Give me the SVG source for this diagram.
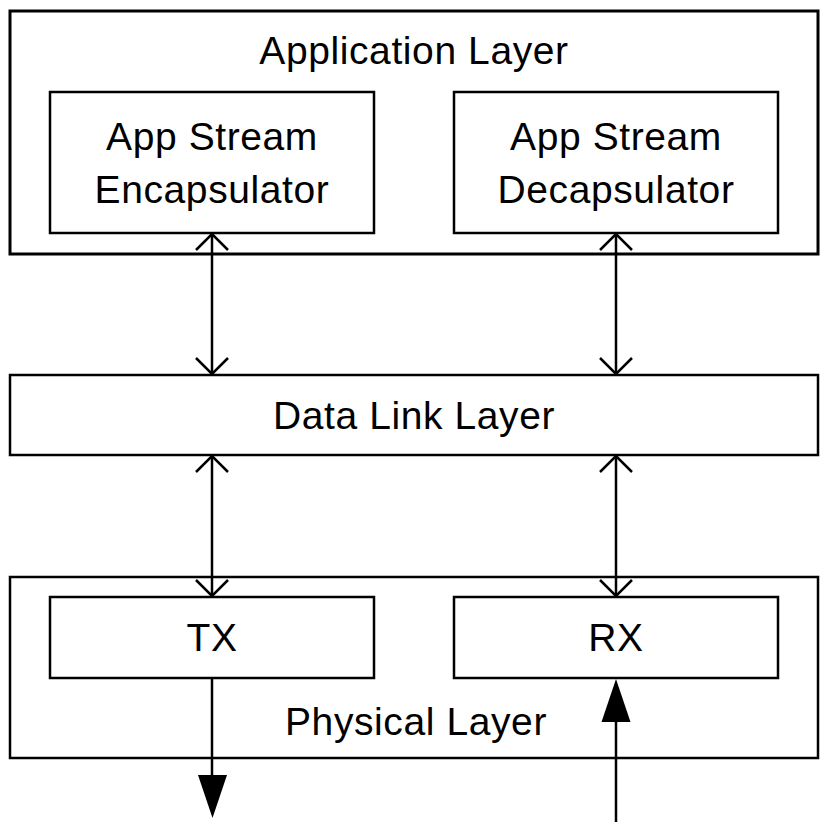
<svg xmlns="http://www.w3.org/2000/svg" width="829" height="825" viewBox="0 0 829 825">
<style>
.box{fill:none;stroke:#000;stroke-width:3}
.inner{fill:none;stroke:#000;stroke-width:2.5}
.t{font-family:"Liberation Sans",Arial,sans-serif;font-size:39px;letter-spacing:0.6px;fill:#000;text-anchor:middle}
.c{stroke:#000;stroke-width:2.5;fill:none}
.head{fill:#000;stroke:none}
</style>
<defs>
<marker id="open" markerUnits="userSpaceOnUse" markerWidth="40" markerHeight="40" refX="30" refY="20" orient="auto-start-reverse" viewBox="0 0 40 40">
<path d="M14 4 L30 20 L14 36" fill="none" stroke="#000" stroke-width="2.5"/>
</marker>
</defs>
<g id="application-layer">
<rect class="box" x="10" y="11" width="808" height="243"/>
<text class="t" x="414" y="64">Application Layer</text>
</g>
<g id="encapsulator">
<rect class="inner" x="50" y="92" width="324" height="141"/>
<text class="t" x="212" y="150">App Stream</text>
<text class="t" x="212" y="203">Encapsulator</text>
</g>
<g id="decapsulator">
<rect class="inner" x="454" y="92" width="324" height="141"/>
<text class="t" x="616" y="150">App Stream</text>
<text class="t" x="616" y="203">Decapsulator</text>
</g>
<g id="data-link-layer">
<rect class="inner" x="10" y="375" width="808" height="80"/>
<text class="t" x="414" y="429">Data Link Layer</text>
</g>
<g id="physical-layer">
<rect class="inner" x="10" y="577" width="808" height="181"/>
<text class="t" x="416" y="735">Physical Layer</text>
</g>
<g id="tx">
<rect class="inner" x="50" y="597" width="324" height="81"/>
<text class="t" x="212" y="651">TX</text>
</g>
<g id="rx">
<rect class="inner" x="454" y="597" width="324" height="81"/>
<text class="t" x="616" y="651">RX</text>
</g>
<g id="connectors">
<path class="c" d="M212 234 V374" marker-start="url(#open)" marker-end="url(#open)"/>
<path class="c" d="M616 234 V374" marker-start="url(#open)" marker-end="url(#open)"/>
<path class="c" d="M212 456 V596" marker-start="url(#open)" marker-end="url(#open)"/>
<path class="c" d="M616 456 V596" marker-start="url(#open)" marker-end="url(#open)"/>
<path class="c" d="M212 679 V780"/>
<path class="head" d="M198 775 L227 775 L212.5 818 Z"/>
<path class="c" d="M616 720 V822"/>
<path class="head" d="M601.5 722 L630.5 722 L616 679 Z"/>
</g>
</svg>
